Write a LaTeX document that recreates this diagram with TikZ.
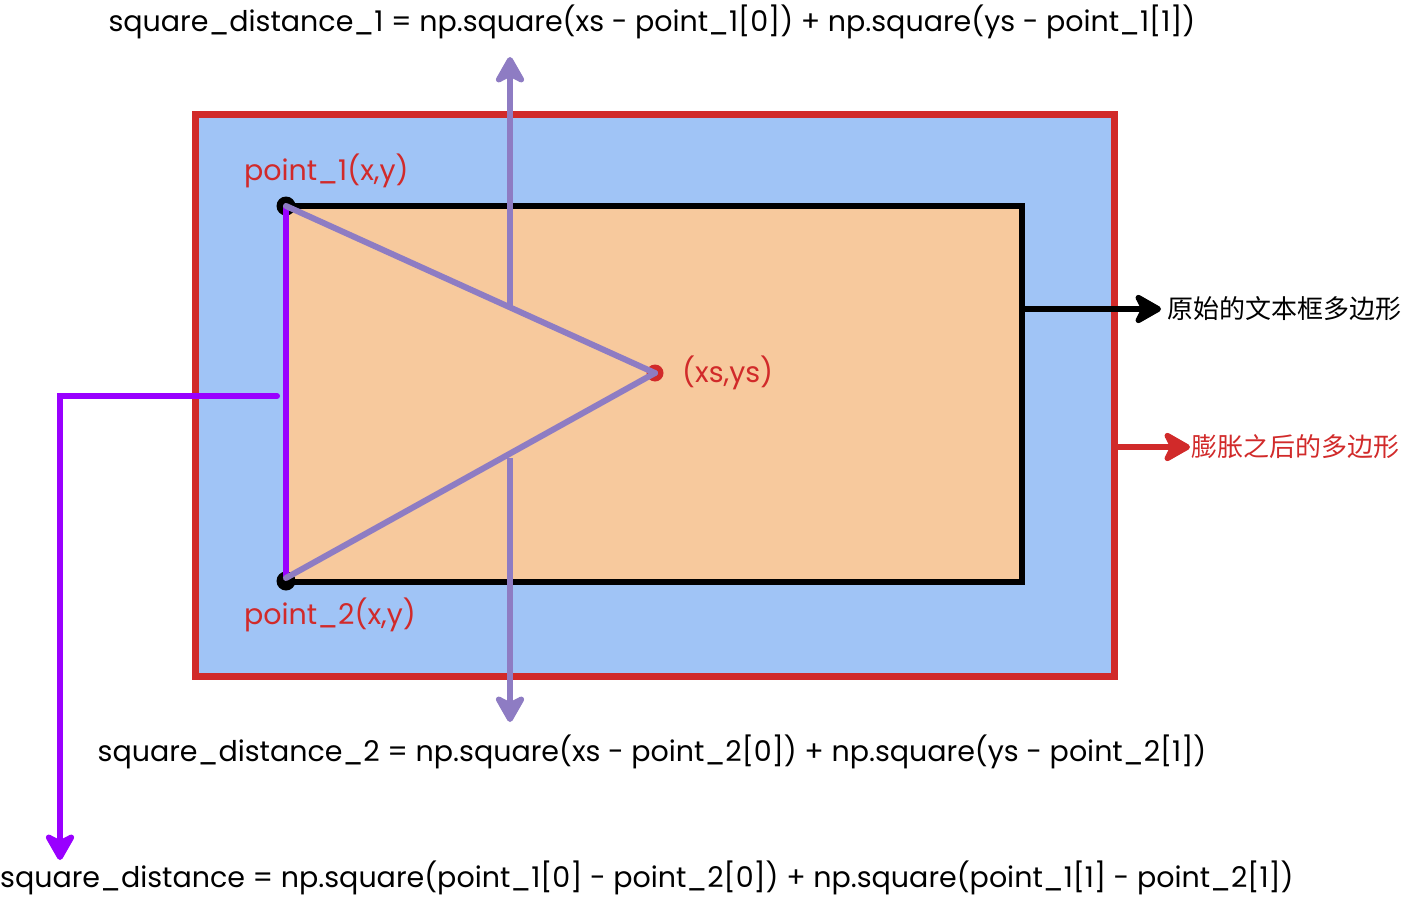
\documentclass[tikz,border=0pt]{standalone}
\usepackage{fontspec}
\setmainfont{Poppins}
\newfontfamily\cjk{Noto Sans CJK SC}
\usetikzlibrary{arrows.meta}
\definecolor{rred}{HTML}{D12A2A}
\definecolor{bblue}{HTML}{A0C4F6}
\definecolor{peach}{HTML}{F7C99D}
\definecolor{lav}{HTML}{8E7CC3}
\definecolor{vio}{HTML}{9900FF}
\tikzset{
  box/.style={draw, rectangle, inner sep=0pt},
  dot/.style={circle, fill, inner sep=0pt, minimum size=19pt},
  txt/.style={font=\fontsize{28.5}{32}\selectfont, inner sep=0pt},
  cjktxt/.style={font=\cjk\fontsize{26}{30}\selectfont, inner sep=0pt, anchor=west},
  bigarrow/.style={-{Stealth[length=32pt,width=36pt,inset=9pt,round]}},
}
\begin{document}
\begin{tikzpicture}[x=1pt,y=-1pt]
\useasboundingbox (0,0) rectangle (1404,904);
% outer (expanded) polygon
\node[box, draw=rred, fill=bblue, line width=7pt, minimum width=919pt, minimum height=561pt] (outer) at (654.5,395.5) {};
% original text box polygon
\node[box, draw=black, fill=peach, line width=6pt, minimum width=736pt, minimum height=376pt] (inner) at (654,394) {};
% points
\node[dot, fill=black] (p1) at (286,206) {};
\node[dot, fill=black] (p2) at (286,581) {};
\node[dot, fill=rred, minimum size=17pt] (c) at (655,373) {};
\coordinate (p1c) at (286,206);
\coordinate (p2c) at (286,578);
% purple side
\draw[vio, line width=6pt] (p1c) -- (p2c);
% triangle sides
\draw[lav, line width=6pt, line cap=round] (p1c) -- (c.center);
\draw[lav, line width=6pt, line cap=round] (p2c) -- (c.center);
% labels
\node[txt, text=rred, anchor=west] (l1) at (244,171) {point\_1(x,y)};
\node[txt, text=rred, anchor=west] (l2) at (244,615) {point\_2(x,y)};
\node[txt, text=rred, anchor=west] (lc) at (682,373) {(xs,ys)};
% formulas
\node[txt] (f1) at (652,22) {square\_distance\_1 = np.square(xs - point\_1[0]) + np.square(ys - point\_1[1])};
\node[txt] (f2) at (652,752) {square\_distance\_2 = np.square(xs - point\_2[0]) + np.square(ys - point\_2[1])};
\node[txt, anchor=west] (f3) at (0,878) {square\_distance = np.square(point\_1[0] - point\_2[0]) + np.square(point\_1[1] - point\_2[1])};
% lavender arrows
\coordinate (u0) at (510,307);
\coordinate (u1) at (510,57);
\coordinate (d0) at (510,458);
\coordinate (d1) at (510,722);
\draw[lav, line width=6pt, bigarrow] (u0) -- (u1);
\draw[lav, line width=6pt, bigarrow] (d0) -- (d1);
% purple arrow
\coordinate (s0) at (277,396);
\coordinate (s1) at (60,396);
\coordinate (s2) at (60,860);
\draw[vio, line width=6pt, line cap=round, bigarrow] (s0) -- (s1) -- (s2);
% side labels
\node[cjktxt, text=black] (t1) at (1167,309) {原始的文本框多边形};
\node[cjktxt, text=rred] (t2) at (1191,447) {膨胀之后的多边形};
\draw[black, line width=6pt, bigarrow] (inner.east |- t1) -- ([xshift=-6pt]t1.west);
\draw[rred, line width=6pt, bigarrow] (outer.east |- t2) -- ([xshift=-1pt]t2.west);
\end{tikzpicture}
\end{document}
